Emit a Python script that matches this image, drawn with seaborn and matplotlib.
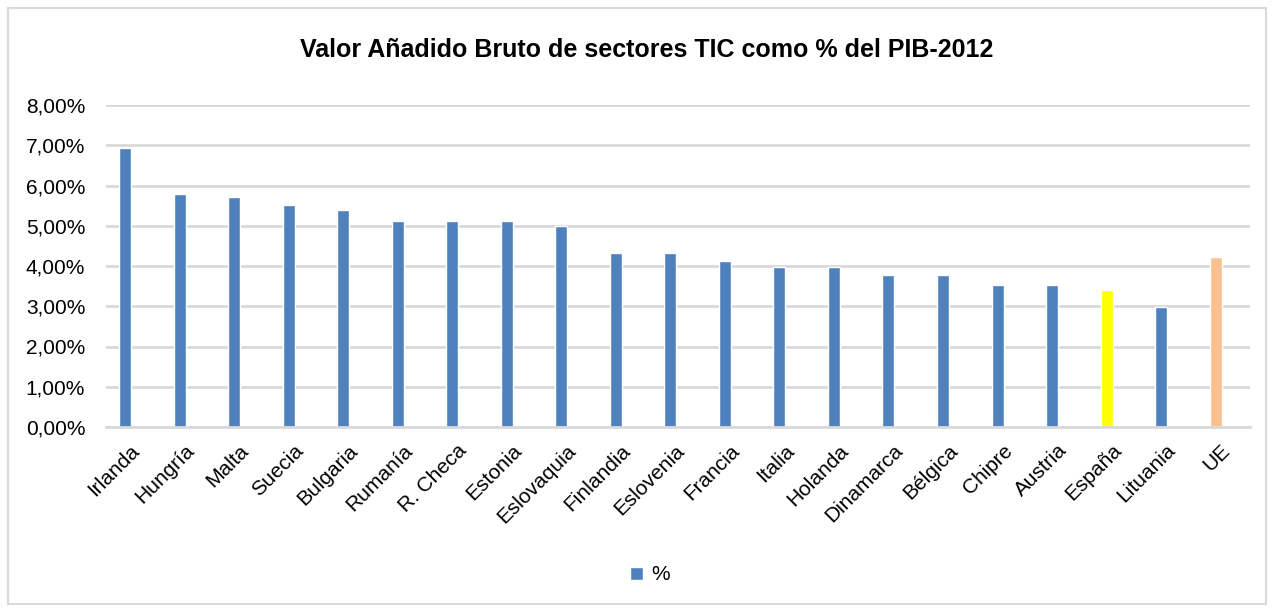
import matplotlib
matplotlib.use("Agg")
import matplotlib.pyplot as plt
import matplotlib.transforms as mtransforms
import seaborn as sns
import pandas as pd
from matplotlib.patches import Patch, Rectangle
from matplotlib.ticker import FuncFormatter, MultipleLocator

countries = ["Irlanda", "Hungría", "Malta", "Suecia", "Bulgaria", "Rumanía", "R. Checa",
             "Estonia", "Eslovaquia", "Finlandia", "Eslovenia", "Francia", "Italia",
             "Holanda", "Dinamarca", "Bélgica", "Chipre", "Austria", "España",
             "Lituania", "UE"]
values = [6.93, 5.78, 5.72, 5.52, 5.39, 5.12, 5.12, 5.12, 4.99, 4.32, 4.32, 4.12,
          3.98, 3.98, 3.78, 3.78, 3.53, 3.53, 3.40, 2.98, 4.22]

BLUE = "#4f81bd"
colors = {c: BLUE for c in countries}
colors["España"] = "#ffff00"
colors["UE"] = "#fac090"

df = pd.DataFrame({"pais": countries, "valor": values})

sns.set_theme(style="white")
plt.rcParams["font.family"] = ["Liberation Sans", "DejaVu Sans"]
plt.rcParams["text.color"] = "black"

fig = plt.figure(figsize=(12.74, 6.12), dpi=100)
ax = fig.add_axes([106/1274, 1 - 427/612, (1250-106)/1274, (427-105)/612])

sns.barplot(data=df, x="pais", y="valor", hue="pais", palette=colors,
            width=0.22, legend=False, ax=ax, saturation=1)

ax.set_ylim(0, 8)
ax.set_xlim(-0.348, 20.63)
ax.yaxis.set_major_locator(MultipleLocator(1))
ax.yaxis.set_major_formatter(FuncFormatter(lambda v, p: f"{v:.2f}".replace(".", ",") + "%"))
ax.grid(axis="y", color="#d9d9d9", linewidth=2)
ax.set_axisbelow(True)
for s in ["top", "right", "left"]:
    ax.spines[s].set_visible(False)
ax.spines["bottom"].set_color("#d9d9d9")
ax.spines["bottom"].set_linewidth(2)
ax.set_xlabel("")
ax.set_ylabel("")
ax.tick_params(axis="y", labelsize=15, colors="black", length=0, pad=15)
ax.tick_params(axis="x", labelsize=15, colors="black", length=0, pad=10)
shift = mtransforms.ScaledTranslation(5/100, 0, fig.dpi_scale_trans)
for lbl in ax.get_xticklabels():
    lbl.set_rotation(45)
    lbl.set_ha("right")
    lbl.set_rotation_mode("anchor")
    lbl.set_transform(lbl.get_transform() + shift)

fig.text(0.5075, 1 - 50/612, "Valor Añadido Bruto de sectores TIC como % del PIB-2012",
         ha="center", va="center", fontsize=18, fontweight="bold", color="black")

fig.legend(handles=[Patch(facecolor=BLUE, label="%")], loc="center",
           bbox_to_anchor=(0.51, 1 - 575/612), frameon=False, fontsize=15,
           handlelength=0.6, handleheight=0.6, handletextpad=0.4,
           labelcolor="black")

fig.patches.append(Rectangle((8/1274, 8/612), 1 - 16/1274, 1 - 16/612,
                             transform=fig.transFigure, fill=False,
                             edgecolor="#d9d9d9", linewidth=1.5))

fig.savefig("out.png", dpi=100, facecolor="white")
